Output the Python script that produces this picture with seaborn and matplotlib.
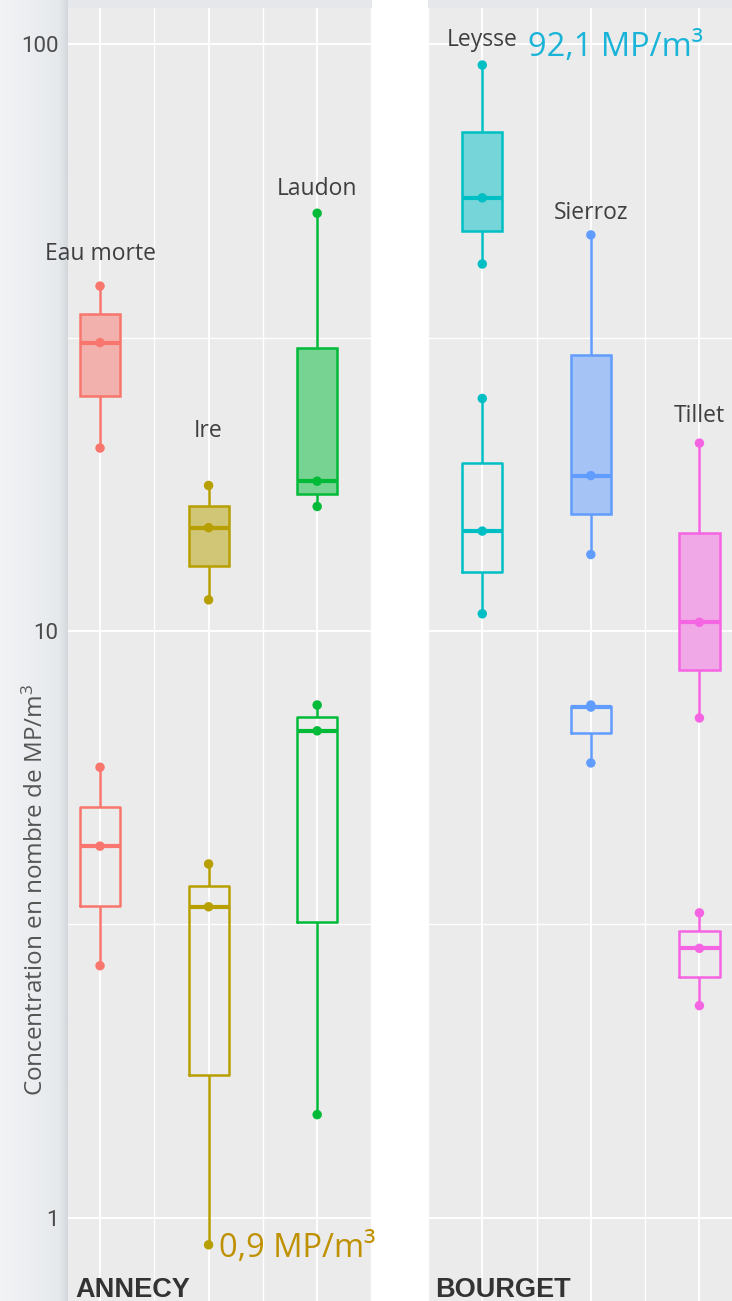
import numpy as np
import pandas as pd
import matplotlib
matplotlib.use("Agg")
import matplotlib.pyplot as plt
import matplotlib.colors as mcolors
from matplotlib.patches import Rectangle
from matplotlib.ticker import NullFormatter
import seaborn as sns

# ---- data: five-number summaries (min, Q1, median, Q3, max), MP/m3 ----
annecy_rivers = ["Eau morte", "Ire", "Laudon"]
annecy_filled = [[20.5, 25.1, 31.0, 34.7, 38.7],
                 [11.3, 12.9, 15.0, 16.3, 17.7],
                 [16.3, 17.1, 18.0, 30.3, 51.5]]
annecy_hollow = [[2.69, 3.40, 4.30, 5.01, 5.86],
                 [0.9, 1.75, 3.39, 3.68, 4.01],
                 [1.50, 3.19, 6.76, 7.14, 7.48]]

bourget_rivers = ["Leysse", "Sierroz", "Tillet"]
bourget_filled = [[42.2, 48.0, 54.7, 70.8, 92.1],
                  [13.5, 15.8, 18.4, 29.5, 47.3],
                  [7.11, 8.58, 10.35, 14.7, 20.9]]
bourget_hollow = [[10.7, 12.6, 14.8, 19.3, 24.9],
                  [5.96, 6.70, 7.42, 7.45, 7.48],
                  [2.30, 2.57, 2.88, 3.08, 3.31]]

annecy_colors = ["#F8766D", "#B79F00", "#00BA38"]
bourget_colors = ["#00BFC4", "#619CFF", "#F564E3"]

y_ticks = [1, 10, 100]
y_tick_labels = ["1", "10", "100"]
panel_titles = ["ANNECY", "BOURGET"]
y_title = "Concentration en nombre de MP/m$^{\\mathrm{3}}$"

# ---- styling ----
sns.set_theme(style="darkgrid")
plt.rcParams["font.family"] = ["Open Sans", "DejaVu Sans"]
plt.rcParams["mathtext.fontset"] = "custom"
plt.rcParams["mathtext.rm"] = "Open Sans"
plt.rcParams["mathtext.it"] = "Open Sans:italic"
plt.rcParams["mathtext.bf"] = "Open Sans:bold"

W, H = 732, 1301
PANEL_BG = "#EBEBEB"
# pixel lift of each river name above its highest point
name_lift = {"Eau morte": 26, "Ire": 48, "Laudon": 18,
             "Leysse": 19, "Sierroz": 16, "Tillet": 21}
PX2PT = 72 / 100


def blend(color, alpha=0.5, base=PANEL_BG):
    c = np.array(mcolors.to_rgb(color))
    b = np.array(mcolors.to_rgb(base))
    return tuple(alpha * c + (1 - alpha) * b)


def long_table(rivers, filled, hollow):
    rows = []
    for r, f, h in zip(rivers, filled, hollow):
        rows += [(r, "plein", v) for v in f]
        rows += [(r, "creux", v) for v in h]
    return pd.DataFrame(rows, columns=["riviere", "style", "conc"])


def marker_table(rivers, filled, hollow):
    rows = []
    for r, f, h in zip(rivers, filled, hollow):
        for s in (f, h):
            rows += [(r, s[0]), (r, s[2]), (r, s[4])]
    return pd.DataFrame(rows, columns=["riviere", "conc"])


def draw_panel(ax, rivers, filled, hollow, colors, xlim, show_y):
    df = long_table(rivers, filled, hollow)
    pts = marker_table(rivers, filled, hollow)
    pal = dict(zip(rivers, colors))
    ax.set_facecolor(PANEL_BG)
    common = dict(x="riviere", y="conc", order=rivers, ax=ax, log_scale=True,
                  whis=(0, 100), width=0.37, saturation=1, linewidth=1.8,
                  showcaps=False, showfliers=False,
                  medianprops=dict(linewidth=3.0))
    for r in rivers:
        sub = df[(df["riviere"] == r) & (df["style"] == "plein")]
        sns.boxplot(data=sub, fill=True, color=blend(pal[r]),
                    linecolor=pal[r], **common)
        sub = df[(df["riviere"] == r) & (df["style"] == "creux")]
        sns.boxplot(data=sub, fill=False, color=pal[r], **common)
    sns.stripplot(data=pts, x="riviere", y="conc", hue="riviere",
                  hue_order=rivers, order=rivers, palette=pal, jitter=False,
                  size=6.8, linewidth=0, legend=False, ax=ax, zorder=4)

    for i, (r, f) in enumerate(zip(rivers, filled)):
        top = max(max(f), max(hollow[i]))
        ax.annotate(r, xy=(i, top), xytext=(0, name_lift[r] * PX2PT),
                    textcoords="offset points", ha="center", va="baseline",
                    fontsize=16.5, color="#3F3F3F", annotation_clip=False)

    ax.set_xticks(range(len(rivers)))
    ax.set_xticks([-0.5, 0.5, 1.5, 2.5], minor=True)
    ax.set_yticks(y_ticks)
    ax.set_yticks([10 ** 0.5, 10 ** 1.5], minor=True)
    ax.yaxis.set_minor_formatter(NullFormatter())
    ax.set_xlim(*xlim)
    ax.set_ylim(0.722, 115.2)
    if show_y:
        ax.set_yticklabels(y_tick_labels, family=["Roboto", "DejaVu Sans"],
                           fontsize=16, color="#4A4A4A")
    else:
        ax.set_yticklabels([])
    ax.set_xticklabels([])
    ax.set_xlabel("")
    ax.set_ylabel("")
    ax.grid(which="major", color="white", linewidth=1.4)
    ax.grid(which="minor", color="white", linewidth=1.0)
    ax.tick_params(which="both", length=0, pad=7)
    for s in ax.spines.values():
        s.set_visible(False)
    ax.set_axisbelow(True)


fig = plt.figure(figsize=(W / 100, H / 100), dpi=100, facecolor="#ECEEF1")

# slide backdrop: shaded left margin, light top strip, white gutter
bg = fig.add_axes([0, 0, 1, 1], zorder=-5)
bg.set_xlim(0, W)
bg.set_ylim(H, 0)
bg.axis("off")
ramp = np.concatenate([np.linspace(0, 0.35, 58), np.linspace(0.35, 1.0, 10)])
c0 = np.array(mcolors.to_rgb("#F1F3F5"))
c1 = np.array(mcolors.to_rgb("#D4D8DC"))
grad = (c0[None, :] * (1 - ramp[:, None]) + c1[None, :] * ramp[:, None])[None, :, :]
bg.imshow(grad, extent=[0, 68, H, 0], aspect="auto", interpolation="bilinear")
bg.add_patch(Rectangle((68, 0), W - 68, 8, color="#E5E7EA", lw=0))
bg.add_patch(Rectangle((372, 0), 56, H, color="white", lw=0))

ax_l = fig.add_axes([68 / W, 0, 304 / W, 1293 / H])
ax_r = fig.add_axes([428 / W, 0, 304 / W, 1293 / H])

draw_panel(ax_l, annecy_rivers, annecy_filled, annecy_hollow, annecy_colors,
           (-0.295, 2.505), True)
draw_panel(ax_r, bourget_rivers, bourget_filled, bourget_hollow, bourget_colors,
           (-0.5, 2.3), False)

# value call-outs for the extreme observations
low = annecy_hollow[1][0]
high = bourget_filled[0][4]
ax_l.annotate(f"{low:.1f}".replace(".", ",") + " MP/m³", xy=(1, low),
              xytext=(10 * PX2PT, 0), textcoords="offset points",
              ha="left", va="center_baseline", fontsize=23.5, color="#BF9000",
              annotation_clip=False)
ax_r.annotate(f"{high:.1f}".replace(".", ",") + " MP/m³", xy=(0, high),
              xytext=(46 * PX2PT, 22 * PX2PT), textcoords="offset points",
              ha="left", va="center_baseline", fontsize=23.5, color="#1AB4D8",
              annotation_clip=False)

for ax, title in zip((ax_l, ax_r), panel_titles):
    ax.text(7 / 304, 4 / 1293, title, transform=ax.transAxes, ha="left",
            va="baseline", fontsize=19.5, fontweight="bold", color="#333333",
            family=["Liberation Sans", "DejaVu Sans"])

fig.text(36 / W, 1 - 890 / H, y_title, rotation=90, ha="center", va="center",
         fontsize=17.5, color="#555555")

fig.savefig("out.png", dpi=100, facecolor=fig.get_facecolor())
